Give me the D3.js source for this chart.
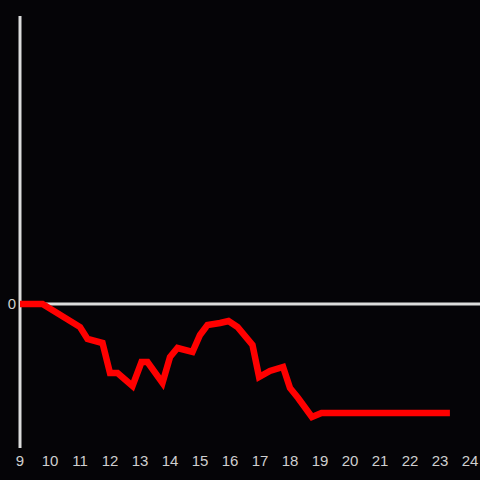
<!DOCTYPE html>
<html>
<head>
    <meta charset="utf-8" />
    <title>chart</title>
    <style>
        * { margin: 0; padding: 0 }
        html, body { width: 100%; height: 100%; background: #050407; }
        svg { display: block; }
    </style>
</head>
<body>
    <svg id="view" width="480" height="480"></svg>
    <script src="https://cdn.jsdelivr.net/npm/d3@7"></script>
    <script>
        // hour of day
        const hours = [9, 9.75, 11, 11.25, 11.75, 12, 12.25, 12.75, 13.05, 13.25, 13.75, 14, 14.25, 14.75,
            15, 15.25, 15.67, 15.95, 16.25, 16.75, 16.97, 17.33, 17.77, 18, 18.27, 18.73, 19.05, 23.33];
        const values = [0, 0, -0.23, -0.35, -0.39, -0.69, -0.69, -0.82, -0.58, -0.58, -0.79, -0.53, -0.44, -0.48,
            -0.31, -0.21, -0.19, -0.17, -0.23, -0.41, -0.73, -0.67, -0.63, -0.84, -0.94, -1.13, -1.09, -1.09];
        const xTicks = [9, 10, 11, 12, 13, 14, 15, 16, 17, 18, 19, 20, 21, 22, 23, 24];
        const yTicks = [0];

        const svg = d3.select('#view');
        const x = d3.scaleLinear().domain([9, 24]).range([20, 470]);
        const y = d3.scaleLinear().domain([-1.44, 2.88]).range([448, 16]);
        const axisColor = '#dcdcdc';
        const textColor = '#cfcfcf';

        // y axis line
        svg.append('line')
            .attr('x1', x(9)).attr('x2', x(9))
            .attr('y1', y(2.88)).attr('y2', y(-1.44))
            .attr('stroke', axisColor).attr('stroke-width', 3);

        // zero line
        svg.append('line')
            .attr('x1', x(9)).attr('x2', 480)
            .attr('y1', y(0)).attr('y2', y(0))
            .attr('stroke', axisColor).attr('stroke-width', 3);

        svg.selectAll('.ylab').data(yTicks).enter().append('text')
            .attr('x', 16).attr('y', d => y(d))
            .attr('dy', '0.35em')
            .attr('text-anchor', 'end')
            .attr('fill', textColor)
            .style('font', '15px "Liberation Sans", Arial, sans-serif')
            .text(d => d);

        svg.selectAll('.xlab').data(xTicks).enter().append('text')
            .attr('x', d => x(d)).attr('y', 466)
            .attr('text-anchor', 'middle')
            .attr('fill', textColor)
            .style('font', '15px "Liberation Sans", Arial, sans-serif')
            .text(d => d);

        const pts = hours.map((h, i) => [h, values[i]]);
        const line = d3.line().x(d => x(d[0])).y(d => y(d[1]));
        svg.append('path')
            .attr('d', line(pts))
            .attr('fill', 'none')
            .attr('stroke', '#ff0000')
            .attr('stroke-width', 6.5)
            .attr('stroke-linejoin', 'miter');
    </script>
</body>
</html>
